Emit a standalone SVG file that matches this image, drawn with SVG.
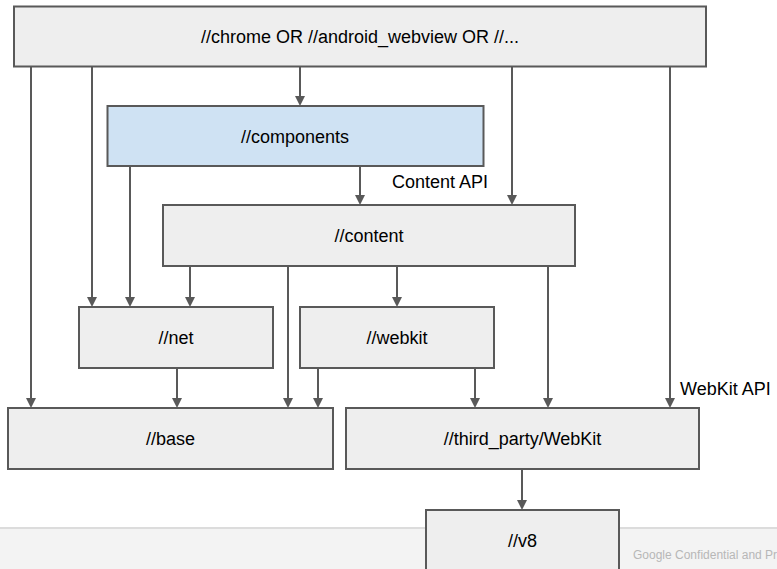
<svg xmlns="http://www.w3.org/2000/svg" width="777" height="569" viewBox="0 0 777 569">
<style>
.box{fill:#eeeeee;stroke:#595959;stroke-width:2}
.blue{fill:#cfe2f3}
.lbl{font-family:"Liberation Sans",Arial,sans-serif;font-size:18px;fill:#000;text-anchor:middle}
.note{font-family:"Liberation Sans",Arial,sans-serif;font-size:18px;fill:#000}
.conn line{stroke:#595959;stroke-width:2;marker-end:url(#arr)}
</style>
<defs>
<marker id="arr" viewBox="0 0 10 10" refX="0" refY="5" markerUnits="userSpaceOnUse" markerWidth="10" markerHeight="10" orient="auto">
<path d="M0,0 L10,5 L0,10 z" fill="#595959"/>
</marker>
</defs>
<rect width="777" height="569" fill="#ffffff"/>
<g id="footer">
<rect x="0" y="528" width="777" height="41" fill="#f3f3f3"/>
<line x1="0" y1="528" x2="777" y2="528" stroke="#dcdcdc" stroke-width="2"/>
<text x="633" y="559" font-family="Liberation Sans, Arial, sans-serif" font-size="12" fill="#b7b7b7">Google Confidential and Pr</text>
</g>
<g class="conn" id="connectors">
<line x1="31" y1="67" x2="31" y2="398"/>
<line x1="92" y1="67" x2="92" y2="297"/>
<line x1="300" y1="67" x2="300" y2="96"/>
<line x1="512" y1="67" x2="512" y2="195"/>
<line x1="670" y1="67" x2="670" y2="398"/>
<line x1="130" y1="166" x2="130" y2="297"/>
<line x1="360" y1="166" x2="360" y2="195"/>
<line x1="190" y1="266" x2="190" y2="297"/>
<line x1="288" y1="266" x2="288" y2="398"/>
<line x1="397" y1="266" x2="397" y2="297"/>
<line x1="548" y1="266" x2="548" y2="398"/>
<line x1="177" y1="368" x2="177" y2="398"/>
<line x1="318" y1="368" x2="318" y2="398"/>
<line x1="475" y1="368" x2="475" y2="398"/>
<line x1="522" y1="469" x2="522" y2="500"/>
</g>
<g id="chrome">
<rect class="box" x="14" y="6.5" width="692" height="60"/>
<text class="lbl" x="360" y="43">//chrome OR //android_webview OR //...</text>
</g>
<g id="components">
<rect class="box blue" x="107.5" y="106" width="376" height="60"/>
<text class="lbl" x="295" y="142.5">//components</text>
</g>
<g id="content-api-label">
<text class="note" x="392" y="188">Content API</text>
</g>
<g id="content">
<rect class="box" x="163" y="205" width="412" height="61"/>
<text class="lbl" x="369" y="242">//content</text>
</g>
<g id="net">
<rect class="box" x="79" y="307" width="194" height="61"/>
<text class="lbl" x="176" y="344">//net</text>
</g>
<g id="webkit">
<rect class="box" x="300" y="307" width="194" height="61"/>
<text class="lbl" x="397" y="344">//webkit</text>
</g>
<g id="webkit-api-label">
<text class="note" x="680" y="395">WebKit API</text>
</g>
<g id="base">
<rect class="box" x="8" y="408" width="325" height="61"/>
<text class="lbl" x="170.5" y="445">//base</text>
</g>
<g id="third_party_webkit">
<rect class="box" x="346" y="408" width="353" height="61"/>
<text class="lbl" x="522.5" y="445">//third_party/WebKit</text>
</g>
<g id="v8">
<rect class="box" x="426" y="510" width="193" height="70"/>
<text class="lbl" x="522.5" y="547">//v8</text>
</g>
</svg>
